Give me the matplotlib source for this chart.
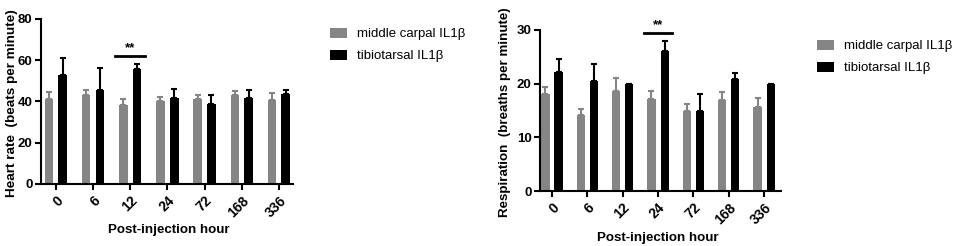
import matplotlib
matplotlib.use("Agg")
import matplotlib.pyplot as plt
import numpy as np

plt.rcParams['font.family'] = ['Liberation Sans', 'DejaVu Sans']
plt.rcParams['font.weight'] = 'bold'

categories = ['0', '6', '12', '24', '72', '168', '336']

hr_mc = [41.4, 43.0, 38.5, 40.3, 41.0, 43.0, 40.9]
hr_mc_err = [3.2, 2.5, 2.9, 1.9, 2.3, 2.1, 3.4]
hr_tt = [52.9, 45.8, 55.7, 41.9, 39.0, 41.9, 43.7]
hr_tt_err = [8.0, 10.2, 2.3, 4.4, 4.0, 3.6, 1.8]

rr_mc = [18.1, 14.2, 18.7, 17.1, 14.9, 17.0, 15.6]
rr_mc_err = [1.3, 1.1, 2.4, 1.6, 1.3, 1.4, 1.7]
rr_tt = [22.1, 20.5, 20.0, 26.0, 14.9, 20.9, 20.0]
rr_tt_err = [2.5, 3.1, 0.0, 2.0, 3.1, 1.1, 0.0]

labels = ['middle carpal IL1\u03b2', 'tibiotarsal IL1\u03b2']
gray = '#858585'
black = '#000000'

W, H = 957, 246
fig = plt.figure(figsize=(W / 100, H / 100), dpi=100)
renderer = fig.canvas.get_renderer()

def axes_px(x0, x1, y0, y1):
    return fig.add_axes([x0 / W, 1 - y1 / H, (x1 - x0) / W, (y1 - y0) / H])

def fit_text(t, target, vertical=False):
    fs = t.get_fontsize()
    for _ in range(3):
        bb = t.get_window_extent(renderer)
        cur = bb.height if vertical else bb.width
        fs = fs * target / cur
        t.set_fontsize(fs)

def panel(ax, mc, mce, tt, tte, ymax, ystep, sig_idx, sig_y, legend_pos, xlim):
    x = np.arange(len(categories))
    w = 0.23
    off = 0.185
    ax.bar(x - off, mc, w, color=gray, label=labels[0],
           yerr=[np.zeros(len(mc)), mce], error_kw=dict(ecolor=gray, capsize=2.5, elinewidth=1.5, capthick=1.5))
    ax.bar(x + off, tt, w, color=black, label=labels[1],
           yerr=[np.zeros(len(tt)), tte], error_kw=dict(ecolor=black, capsize=2.5, elinewidth=1.5, capthick=1.5))
    ax.set_xlim(*xlim)
    ax.set_ylim(0, ymax)
    ax.set_yticks(np.arange(0, ymax + 0.1, ystep))
    ax.set_xticks(x)
    ax.set_xticklabels(categories, rotation=45, fontsize=10, fontweight='bold',
                       ha='right', rotation_mode='anchor')
    for t in ax.get_yticklabels():
        t.set_fontsize(9.5); t.set_fontweight('bold')
    ax.spines['top'].set_visible(False)
    ax.spines['right'].set_visible(False)
    ax.spines['left'].set_linewidth(1.5)
    ax.spines['bottom'].set_linewidth(1.5)
    ax.tick_params(width=1.5, length=4)
    ax.tick_params(axis='x', pad=3)
    ax.tick_params(axis='y', pad=2)
    ax.plot([sig_idx - 0.4, sig_idx + 0.4], [sig_y, sig_y], color='black', lw=2, clip_on=False)
    ax.text(sig_idx, sig_y + ymax * 0.012, '**', ha='center', va='bottom', fontsize=9.5, fontweight='bold')
    h, l = ax.get_legend_handles_labels()
    fig.legend(h, l, loc='upper left', bbox_to_anchor=legend_pos, frameon=False, borderpad=0,
               prop={'size': 9.5, 'weight': 'normal'}, handlelength=1.3, handleheight=0.8,
               labelspacing=0.72, handletextpad=0.75)

ax1 = axes_px(41, 293, 19, 184)
panel(ax1, hr_mc, hr_mc_err, hr_tt, hr_tt_err, 80, 20, 2, 62, (323 / W, 1 - 21 / H), (-0.4, 6.38))
t = fig.text(12 / W, 1 - 103 / H, 'Heart rate  (beats per minute)', rotation=90,
             ha='center', va='center', fontsize=10, fontweight='bold')
fit_text(t, 187, vertical=True)
t = fig.text(169 / W, 1 - 230 / H, 'Post-injection hour', ha='center', va='center',
             fontsize=10.5, fontweight='bold')
fit_text(t, 122)

ax2 = axes_px(540, 781, 30, 191)
panel(ax2, rr_mc, rr_mc_err, rr_tt, rr_tt_err, 30, 10, 3, 29.5, (810 / W, 1 - 33 / H), (-0.34, 6.48))
t = fig.text(505 / W, 1 - 112 / H, 'Respiration  (breaths per minute)', rotation=90,
             ha='center', va='center', fontsize=10, fontweight='bold')
fit_text(t, 211, vertical=True)
t = fig.text(658 / W, 1 - 238 / H, 'Post-injection hour', ha='center', va='center',
             fontsize=10.5, fontweight='bold')
fit_text(t, 122)

fig.savefig('out.png', dpi=100)
